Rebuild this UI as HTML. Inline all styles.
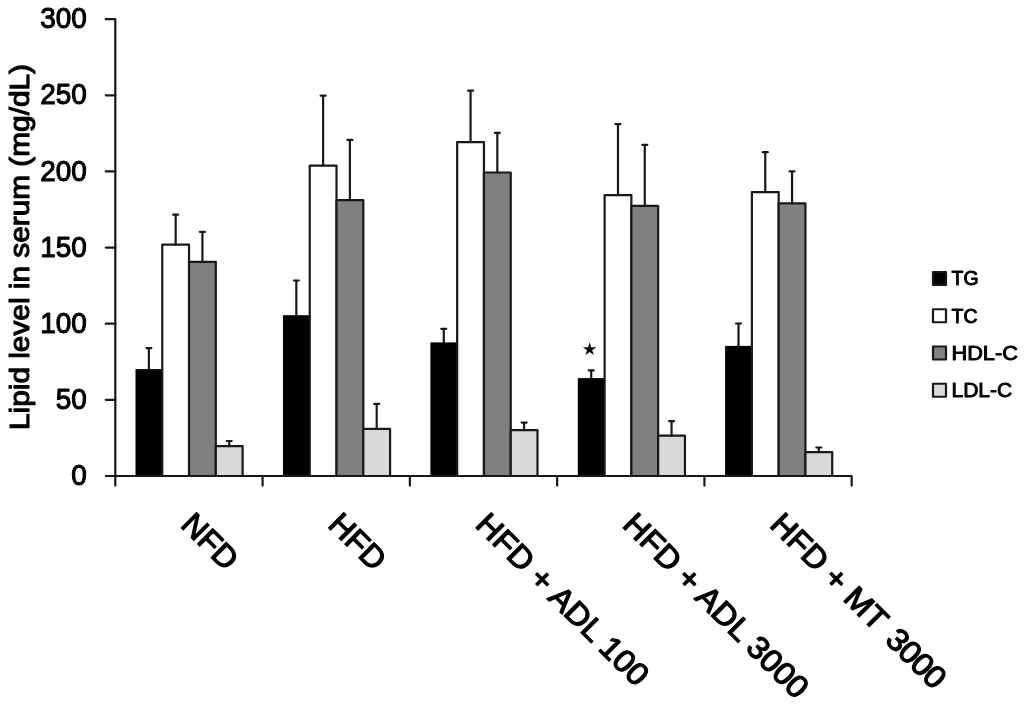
<!DOCTYPE html>
<html><head><meta charset="utf-8"><title>Lipid level in serum</title>
<style>html,body{margin:0;padding:0;background:#fff}svg{display:block}</style></head>
<body>
<svg width="1024" height="710" viewBox="0 0 1024 710">
<rect width="1024" height="710" fill="#fff"/>
<g stroke="#181818" stroke-width="2.2" fill="none" stroke-linejoin="round" stroke-linecap="round">
<rect x="135.48" y="369.10" width="27.78" height="106.90" fill="#000000" stroke="none"/>
<path d="M148.87 369.10V348.10M146.37 348.10H151.37"/>
<rect x="162.26" y="244.70" width="26.78" height="231.30" fill="#ffffff"/>
<path d="M175.65 244.70V214.70M173.15 214.70H178.15"/>
<rect x="189.04" y="261.80" width="26.78" height="214.20" fill="#808080"/>
<path d="M202.43 261.80V231.90M199.93 231.90H204.93"/>
<rect x="215.82" y="446.20" width="26.78" height="29.80" fill="#d9d9d9"/>
<path d="M229.21 446.20V441.00M226.71 441.00H231.71"/>
<rect x="282.96" y="315.20" width="27.78" height="160.80" fill="#000000" stroke="none"/>
<path d="M296.35 315.20V280.50M293.85 280.50H298.85"/>
<rect x="309.74" y="165.60" width="26.78" height="310.40" fill="#ffffff"/>
<path d="M323.13 165.60V95.70M320.63 95.70H325.63"/>
<rect x="336.52" y="200.10" width="26.78" height="275.90" fill="#808080"/>
<path d="M349.91 200.10V139.90M347.41 139.90H352.41"/>
<rect x="363.30" y="428.90" width="26.78" height="47.10" fill="#d9d9d9"/>
<path d="M376.69 428.90V403.90M374.19 403.90H379.19"/>
<rect x="430.39" y="342.40" width="27.78" height="133.60" fill="#000000" stroke="none"/>
<path d="M443.78 342.40V328.80M441.28 328.80H446.28"/>
<rect x="457.17" y="142.10" width="26.78" height="333.90" fill="#ffffff"/>
<path d="M470.56 142.10V90.70M468.06 90.70H473.06"/>
<rect x="483.95" y="172.50" width="26.78" height="303.50" fill="#808080"/>
<path d="M497.34 172.50V132.80M494.84 132.80H499.84"/>
<rect x="510.73" y="430.10" width="26.78" height="45.90" fill="#d9d9d9"/>
<path d="M524.12 430.10V422.60M521.62 422.60H526.62"/>
<rect x="577.82" y="378.10" width="27.78" height="97.90" fill="#000000" stroke="none"/>
<path d="M591.21 378.10V370.40M588.71 370.40H593.71"/>
<rect x="604.60" y="195.10" width="26.78" height="280.90" fill="#ffffff"/>
<path d="M617.99 195.10V124.10M615.49 124.10H620.49"/>
<rect x="631.38" y="205.90" width="26.78" height="270.10" fill="#808080"/>
<path d="M644.77 205.90V144.80M642.27 144.80H647.27"/>
<rect x="658.16" y="435.60" width="26.78" height="40.40" fill="#d9d9d9"/>
<path d="M671.55 435.60V421.10M669.05 421.10H674.05"/>
<rect x="725.10" y="345.90" width="27.78" height="130.10" fill="#000000" stroke="none"/>
<path d="M738.49 345.90V323.50M735.99 323.50H740.99"/>
<rect x="751.88" y="192.10" width="26.78" height="283.90" fill="#ffffff"/>
<path d="M765.27 192.10V152.20M762.77 152.20H767.77"/>
<rect x="778.66" y="203.40" width="26.78" height="272.60" fill="#808080"/>
<path d="M792.05 203.40V171.30M789.55 171.30H794.55"/>
<rect x="805.44" y="452.10" width="26.78" height="23.90" fill="#d9d9d9"/>
<path d="M818.83 452.10V447.50M816.33 447.50H821.33"/>
<path d="M105.8 19.15H115.3V485.6M105.8 476.0H851.7V485.6" stroke-linejoin="round"/>
<path d="M105.8 399.86H115.3"/>
<path d="M105.8 323.72H115.3"/>
<path d="M105.8 247.57H115.3"/>
<path d="M105.8 171.43H115.3"/>
<path d="M105.8 95.29H115.3"/>
<path d="M262.58 476.0V485.6"/>
<path d="M409.86 476.0V485.6"/>
<path d="M557.14 476.0V485.6"/>
<path d="M704.42 476.0V485.6"/>
</g>
<g font-family="'Liberation Sans', sans-serif" font-weight="normal" fill="#000" stroke="#000" stroke-width="1.1" stroke-linejoin="round">
<text transform="translate(86.8,485.10) scale(0.94,1)" text-anchor="end" font-size="29.7">0</text>
<text transform="translate(86.8,408.96) scale(0.94,1)" text-anchor="end" font-size="29.7">50</text>
<text transform="translate(86.8,332.82) scale(0.94,1)" text-anchor="end" font-size="29.7">100</text>
<text transform="translate(86.8,256.67) scale(0.94,1)" text-anchor="end" font-size="29.7">150</text>
<text transform="translate(86.8,180.53) scale(0.94,1)" text-anchor="end" font-size="29.7">200</text>
<text transform="translate(86.8,104.39) scale(0.94,1)" text-anchor="end" font-size="29.7">250</text>
<text transform="translate(86.8,28.25) scale(0.94,1)" text-anchor="end" font-size="29.7">300</text>
<text transform="translate(28.5,430) rotate(-90)" font-size="27.5" textLength="366" lengthAdjust="spacingAndGlyphs">Lipid level in serum (mg/dL)</text>
<text transform="translate(179.44,525.9) rotate(45) scale(1.01,1)" font-size="31.4" stroke-width="1.3">NFD</text>
<text transform="translate(326.72,525.9) rotate(45) scale(1.02,1)" font-size="31.4" stroke-width="1.3">HFD</text>
<text transform="translate(474.00,525.9) rotate(45) scale(1.044,1)" font-size="31.4" stroke-width="1.3">HFD + ADL 100</text>
<text transform="translate(621.28,525.9) rotate(45) scale(1.042,1)" font-size="31.4" stroke-width="1.3">HFD + ADL 3000</text>
<text transform="translate(768.56,525.9) rotate(45) scale(1.037,1)" font-size="31.4" stroke-width="1.3">HFD + MT<tspan dx="3.8" letter-spacing="-0.75"> 3000</tspan></text>
<rect x="933" y="272.00" width="13" height="13" fill="#000000" stroke="#181818" stroke-width="2.2"/>
<text transform="translate(951.5,285.40) scale(0.95,1)" font-size="20.5" stroke-width="0.95">TG</text>
<rect x="933" y="309.25" width="13" height="13" fill="#ffffff" stroke="#181818" stroke-width="2.2"/>
<text transform="translate(951.5,322.65) scale(0.95,1)" font-size="20.5" stroke-width="0.95">TC</text>
<rect x="933" y="346.50" width="13" height="13" fill="#808080" stroke="#181818" stroke-width="2.2"/>
<text transform="translate(951.5,359.90) scale(1.06,1)" font-size="20.5" stroke-width="0.95">HDL-C</text>
<rect x="933" y="383.75" width="13" height="13" fill="#d9d9d9" stroke="#181818" stroke-width="2.2"/>
<text transform="translate(951.5,397.15) scale(1.025,1)" font-size="20.5" stroke-width="0.95">LDL-C</text>
</g>
<text x="589.7" y="354.9" text-anchor="middle" font-size="17.5" font-family="'DejaVu Sans', sans-serif" fill="#000">★</text>
</svg>
</body></html>
